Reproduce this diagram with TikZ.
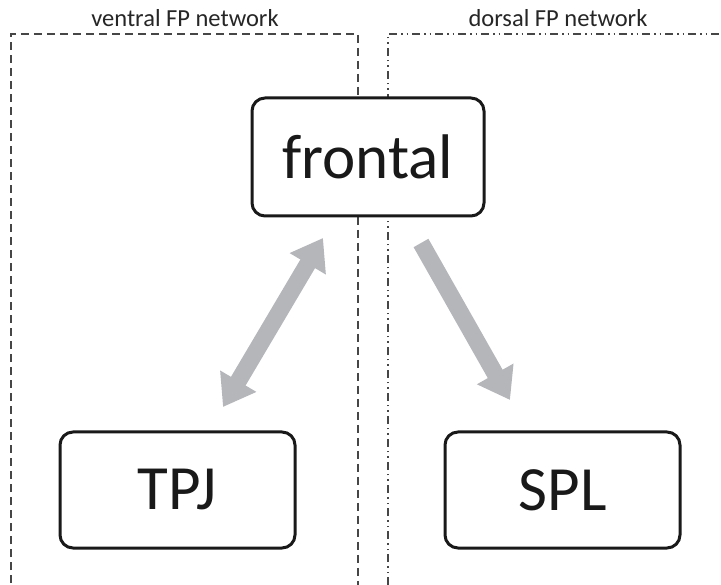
\documentclass[tikz,border=0pt]{standalone}
\usepackage{fontspec}
\setmainfont{Carlito}
\usetikzlibrary{arrows.meta}
\definecolor{arrowgray}{RGB}{180,182,186}
\definecolor{framegray}{RGB}{70,70,70}
\tikzset{
  region/.style={draw=framegray, line width=1.1pt},
  regionlabel/.style={font=\fontsize{24.5}{28}\selectfont, text=black!85, inner sep=0pt},
  areabox/.style={draw=black!90, fill=white, line width=3pt, rounded corners=13pt, align=center,
    font=\fontsize{63}{72}\selectfont, text=black!90, inner sep=0pt},
  bigarrow/.style={draw=arrowgray, line width=17pt},
  bigtip/.tip={Triangle[width=40pt,length=30pt]}
}
\begin{document}
\begin{tikzpicture}[x=1pt,y=-1pt]
\useasboundingbox (0,0) rectangle (721,585);
\clip (0,0) rectangle (721,585);
% network regions
\draw[region, dash pattern=on 8pt off 5pt] (11,700) -- (11,34) -- (358,34) -- (358,700);
\draw[region, dash pattern=on 8pt off 4pt on 1.5pt off 4pt on 1.5pt off 4pt] (388,700) -- (388,34) -- (740,34) -- (740,700);
\node[regionlabel] (vlab) at (185,18) {ventral FP network};
\node[regionlabel] (dlab) at (558,18) {dorsal FP network};
% areas
\node[areabox, minimum width=232pt, minimum height=118pt] (frontal) at (368,157) {frontal};
\node[areabox, minimum width=235pt, minimum height=116pt] (tpj) at (177.5,490) {TPJ};
\node[areabox, minimum width=235pt, minimum height=116pt] (spl) at (562.5,490) {SPL};
% arrow end points
\coordinate (fl) at (323,238);
\coordinate (tu) at (223,407);
\coordinate (fr) at (421,243);
\coordinate (su) at (510,400);
\draw[bigarrow, {bigtip}-{bigtip}] (tu) -- (fl);
\draw[bigarrow, -{bigtip}] (fr) -- (su);
\end{tikzpicture}
\end{document}
